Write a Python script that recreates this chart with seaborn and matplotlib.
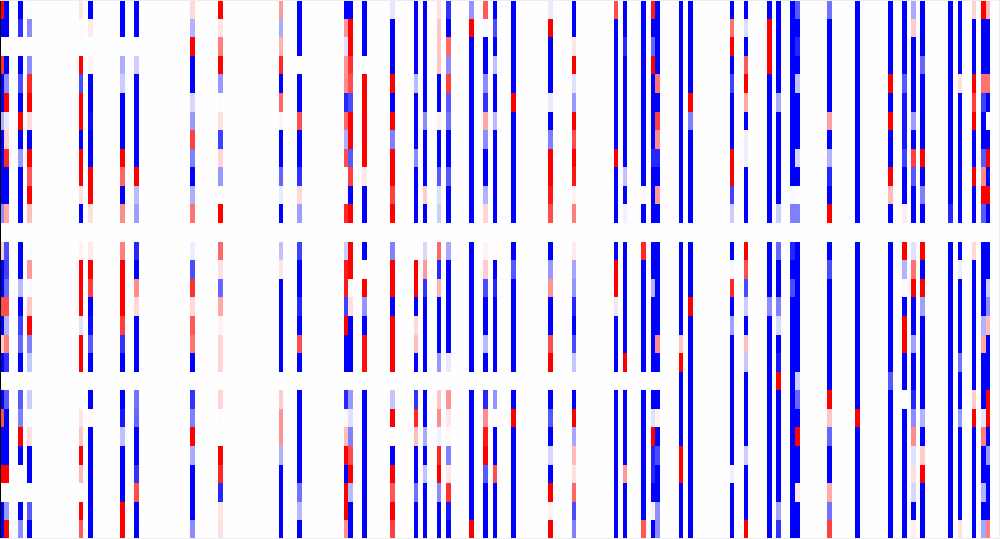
import numpy as np
import pandas as pd
import matplotlib
matplotlib.use('Agg')
import matplotlib.pyplot as plt
import seaborn as sns

## 215 columns x 29 rows, most columns are empty so only the filled ones are listed
n_cols = 215
n_rows = 29

c0 = [1,-1,0,.8,-1,-1,-.3,-1,-1,-1,-1,-.45,0,.2,-1,-1,.7,-1,.2,-1,0,-1,.7,-1,-1,1,0,-1,-1]
c1 = [-1,-1,0,-1,-.45,1,-.08,.18,.85,-1,-1,.35,0,-.7,-.75,-.6,.7,-.3,.5,-.8,0,-.65,-1,-1,-1,1,0,-.4,1]
c4 = [-1,-.8,0,-1,-.7,-1,1,-1,-.4,-1,-1,-1,0,-1,-1,-.27,-1,-.75,-.6,-1,0,-.65,-.5,1,-1,0,0,-1,-.45]
c6 = [-.02,-.45,0,-.45,.85,1,.15,-1,1,.65,1,.25,0,-.02,.4,-.02,.22,1,-.5,-.22,0,-.2,-.02,.12,-1,-1,0,-.65,-1]
c17 = [.1,.02,0,1,-.7,1,1,-1,1,1,.12,-1,0,.05,1,1,1,-.12,1,1,0,-.02,.1,.22,1,.28,0,1,.65]
c19 = [-1,.08,0,.04,-1,-1,-.95,-1,-1,1,1,.13,0,.08,1,.75,-1,-.95,-.65,-1,0,-1,.03,-1,-1,-1,-1,-1,-1]
c26 = [-1,-1,0,-.32,-.2,-1,-1,-1,1,.6,-1,.45,0,.5,1,1,1,.75,-.8,-1,0,-1,-.9,-.25,-1,-1,-1,1,1]
c29 = [-1,-1,0,-.2,-1,-1,-1,-1,-1,1,-.27,-.38,0,-.85,-1,.45,.15,-1,-1,-1,0,-.55,-.6,-1,-1,-.8,.7,-1,-1]
c41 = [.15,-.3,1,-1,-1,-.15,-.4,.75,-.5,-1,-.32,.55,0,-.07,-.7,.8,.15,.65,.55,-1,0,-.8,-.5,1,-.33,-1,-1,-1,-.45]
c47 = [1,.1,.5,1,-.4,-.01,.12,-.75,.17,-.4,.01,1,0,.6,.12,-.6,.35,.04,.17,.17,0,.17,-.01,0,1,.85,-.85,.1,.12]
c60 = [.4,-.33,.3,.85,-1,.6,.04,-1,-1,-.6,-.08,-1,0,-.25,.1,-1,-1,-1,-1,-1,0,.2,.42,.42,-.3,-1,-1,-1,-1]
c64 = [-1,-1,-1,.01,-1,-1,.7,-1,-1,-.8,.15,-.38,0,-.75,-1,-1,-.85,-1,.7,-1,0,-1,-1,-1,-1,-1,-.55,-.28,-1]
c74 = [-1,.42,-.12,.42,.45,-.85,.6,-.32,.7,.01,-.03,.85,0,-.2,.9,.9,-.75,1,-1,-1,0,-.85,.03,.25,1,-1,1,1,.45]
c75 = [-1,1,1,.8,.7,-.7,1,1,-.65,.75,-1,1,0,1,1,.03,.13,-1,-1,-1,0,-.4,-.12,-.5,.7,1,-.28,-1,-1]
c78 = [-1,-1,-1,-.01,1,1,1,1,1,.08,-1,-1,0,-1,.01,1,-.42,-1,.95,.95,0,-1,-1,-1,-1,-1,-1,-1,-1]
c84 = [-.1,-1,-1,-1,1,-1,1,-.5,1,1,.75,1,0,-.5,1,1,-1,1,1,1,0,-.22,1,0,-1,1,.65,1,.75]
c89 = [-1,-1,-1,-1,-.27,-1,-1,-1,-.45,-1,-1,-1,0,-.01,1,1,-1,.15,.25,-1,0,-.8,.85,.25,-1,-1,-.55,-1,-1]
c91 = [-1,-1,-1,-1,-1,-1,-.45,-1,-1,-1,.2,-1,0,-.15,.4,-.8,-1,-1,-1,-1,0,-1,-1,-.33,-1,-.25,-1,-1,-1]
c94 = [.12,.22,.22,.22,-1,-1,.07,-1,-1,-.65,-.13,-.2,0,.6,-.85,.3,-1,-1,-1,-.4,0,.22,.45,-.06,.85,1,-.45,-1,-1]
c96 = [-.8,-1,.6,-.45,.75,-.65,-.55,-1,-1,-.65,-1,-1,0,-.35,-1,-1,-1,-1,-1,-.09,0,.42,.1,.03,-.5,.1,.8,-.9,-1]
c101 = [-.42,1,-1,-1,-1,-1,-1,-1,-1,-1,-1,-1,0,-1,-1,-1,-1,-1,-1,-1,0,-1,-1,-1,-1,-1,-1,-1,1]
c104 = [.65,-.02,-1,-1,-.45,-.8,.35,-.45,-1,-1,-.3,.17,0,.05,.2,-.7,-1,-1,-.27,-1,0,-.85,.45,.9,1,-.65,-1,-1,-1]
c106 = [-1,-.7,-1,-.25,-1,-1,-.28,-1,-1,-1,-1,-1,0,.01,-1,-.85,-1,-1,-1,-1,0,-.42,0,-1,-1,.7,-1,-1,-1]
c110 = [-1,-1,-1,-1,-1,1,-1,-1,-1,-1,-1,-1,0,-1,-.65,-1,-1,-1,-1,-1,0,-1,1,-1,-1,-1,-1,-1,-1]
c118 = [-.08,1,-1,-1,-1,-.08,-1,-.5,1,1,.9,.7,0,-1,-.4,.42,-1,-1,.7,1,0,-1,-.65,-1,-.15,-1,1,.05,1]
c123 = [-1,-1,.1,1,-.12,-.4,1,.7,1,.9,.05,.5,0,.08,-.35,-.42,-.85,-1,-.7,-.22,0,-1,1,-.35,.27,.12,.6,-.7,-.5]
c132 = [.7,-1,-1,-1,-1,-1,-1,-1,1,-1,-1,-1,0,-1,1,1,-.08,-1,-1,-1,0,-1,-1,-1,-1,-1,-1,-1,-1]
c134 = [-1,-1,-.85,-1,-1,-1,-1,-1,-1,-.25,-1,-.06,0,-1,-1,-1,-1,-1,-1,1,0,-1,-1,-1,-1,.4,-1,-1,-1]
c138 = [-1,-1,-1,-1,-1,-1,-1,-1,-1,-1,-.02,-1,0,.85,-1,-1,-1,-1,-1,-1,0,-1,-1,-1,-1,-1,-1,-1,.65]
c140 = [.9,-1,-.6,1,-1,-1,-1,-1,-.85,-1,-1,-1,0,-1,-1,-.3,-1,-1,-1,-1,0,-1,-.12,1,-.85,-.85,-1,.07,-1]
c141 = [-1,-1,-1,-1,.55,-1,.75,.45,-.85,-1,.4,-1,0,-1,-1,-1,-1,-1,.45,-1,0,-1,.05,-1,-.7,-1,-1,-.45,-.45]
c146 = [-1,-1,-1,-1,-1,-1,-1,-1,-1,-1,-1,-1,0,-1,-1,-1,-1,-1,.22,1,-1,-1,-1,-1,1,1,-1,-1,-1]
c148 = [-1,-1,-1,-1,-1,1,-.5,-1,-1,-1,-1,-1,0,-1,-1,-1,1,-1,-1,-1,-1,-1,-1,-1,-1,-1,-1,-1,-1]
c157 = [-1,.55,1,-1,-.75,-1,-1,-1,1,1,-.75,-.2,0,-1,-.03,.85,-1,-.37,-1,-1,-1,-1,-1,-1,-1,-.06,-1,-1,-1]
c160 = [-1,-.13,-1,.65,1,.33,-1,-.06,-.06,-1,-1,-1,0,1,.7,-.7,-.2,-1,.25,-.22,-1,-1,-1,-1,-.2,-1,-1,-1,1]
c165 = [-1,1,1,1,-1,-1,-1,-1,-1,-1,-1,-1,0,-1,-1,-1,-.45,-1,-1,-1,-1,-1,-1,-1,-1,-1,-1,-1,-1]
c167 = [-1,-1,-1,-1,-1,-.33,-1,-1,-1,-1,-1,-.2,0,-.6,-1,-1,-.5,-.15,-1,-.9,1,-1,-1,-1,-1,-1,-1,-.35,-.8]
c170 = [-1,-1,-1,-1,-1,-1,-1,-1,-1,-1,-.03,-.5,0,-.85,-1,-.7,-1,-1,-1,-1,-1,-1,-1,-1,-1,-1,-1,-1,-1]
c171 = [-.65,-1,-.85,-1,-.25,-1,-1,-1,-.17,-1,.01,-.5,0,-1,-1,-1,-1,-1,-1,-1,-.2,-.6,-1,1,-1,-1,.08,-1,-1]
c178 = [-.55,-1,-1,-1,-1,-1,.38,-1,-.3,-.85,-1,1,0,-1,-.7,-1,-1,-1,-1,-1,-1,1,.22,-.6,-1,-1,.33,-.55,.75]
c184 = [-1,-1,-1,-1,-1,-1,-1,-1,-1,-1,-1,-1,0,-1,-1,-1,-1,-1,-1,-1,-1,-1,1,-1,-1,-1,-1,-1,-1]
c191 = [-1,-1,-1,-1,1,-1,1,-1,-1,1,.27,-1,0,-1,-1,-1,-1,-1,-1,-1,-.65,-1,-1,-1,-1,-1,-1,-1,-1]
c194 = [-1,-1,-1,-1,-.65,-.9,-.9,-.9,-.75,-1,-1,.07,0,1,-.3,.02,-1,1,1,-1,-1,0,-1,-1,-1,-1,-1,-1,-1]
c196 = [-.33,.2,-1,-1,-1,-1,-.38,-1,.75,-.65,-1,-1,0,-.12,.55,1,-1,-1,-.37,-1,-1,-.85,-.45,.45,-.12,.12,-.15,-1,.07]
c198 = [-1,-1,-1,-.6,-1,-1,-1,-1,1,-1,-.5,-1,0,1,-1,1,-.37,-1,-1,-1,-1,-1,-.3,-1,.2,1,-1,-1,-1]
c204 = [-1,-1,-1,-1,-1,-1,-1,-1,-1,-1,-1,-.85,0,-1,-1,-1,-1,-1,-1,-1,-1,-1,-1,-1,-1,-1,-1,-1,-1]
c206 = [-1,-1,-1,-1,.13,-1,-1,-1,-1,-1,-1,-1,0,-1,-.07,-1,-1,-1,-1,-.55,-1,-1,-.4,-1,-1,-1,-1,-1,.12]
c209 = [.17,-1,-1,-1,1,.75,1,-1,-1,1,-1,-1,0,.15,-1,-1,-1,-1,-1,-1,-1,.2,1,-1,-1,-1,-1,-1,-1]
c211 = [1,-1,-1,-1,.55,-.75,-1,-1,-.65,.45,1,-.65,0,-1,-1,-1,-1,-.3,.35,-1,-1,-1,-.1,.5,-1,-1,-.3,-1,-.35]
c212 = [.27,-1,-1,-1,.55,-1,.02,-1,1,-1,1,-1,0,-1,-1,-.2,-.45,.27,-1,-1,-1,1,1,-1,-.4,-1,-1,-1,.5]

filled = {0: c0, 1: c1, 4: c4, 6: c6, 17: c17, 19: c19, 26: c26, 29: c29, 41: c41, 47: c47,
          60: c60, 64: c64, 74: c74, 75: c75, 78: c78, 84: c84, 89: c89, 91: c91, 94: c94,
          96: c96, 101: c101, 104: c104, 106: c106, 110: c110, 118: c118, 123: c123,
          132: c132, 134: c134, 138: c138, 140: c140, 141: c141, 146: c146, 148: c148,
          157: c157, 160: c160, 165: c165, 167: c167, 170: c170, 171: c171, 178: c178,
          184: c184, 191: c191, 194: c194, 196: c196, 198: c198, 204: c204, 206: c206,
          209: c209, 211: c211, 212: c212}

table = pd.DataFrame(0.0, index=range(n_rows), columns=range(n_cols))
for col, values in filled.items():
    table[col] = values

fig = plt.figure(figsize=(10, 5.39), dpi=100)
## half a pixel to the left, the cells in the reference land that way
ax = fig.add_axes([-0.00045, 0, 1, 1])
sns.heatmap(table, cmap='bwr', vmin=-1, vmax=1, cbar=False,
            xticklabels=False, yticklabels=False, ax=ax)

## thin frame left over around the picture
for side, spine in ax.spines.items():
    spine.set_visible(True)
    spine.set_color('black' if side == 'left' else '#eeeeee')
    spine.set_linewidth(1.44)

fig.savefig('out.png', dpi=100)
